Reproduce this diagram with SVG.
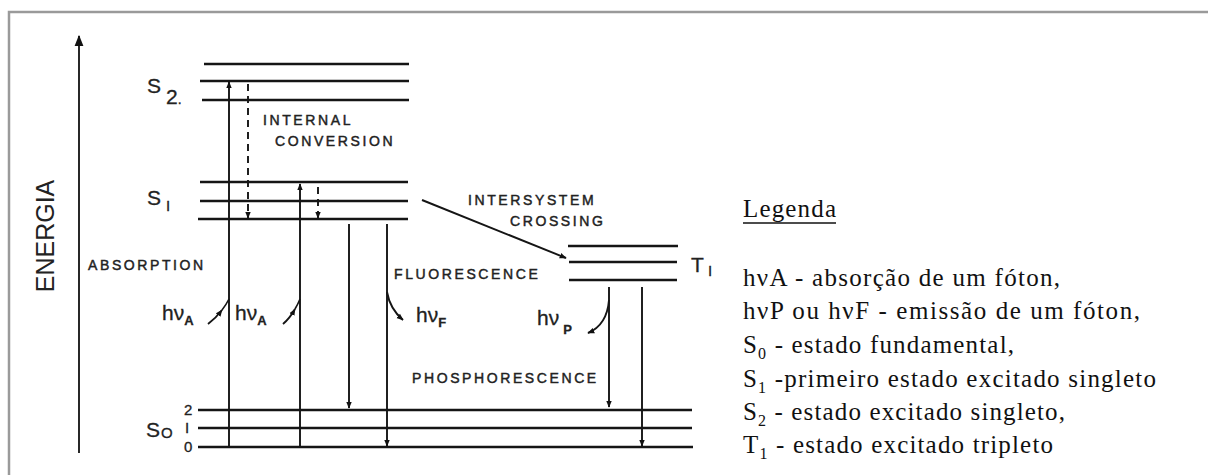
<svg xmlns="http://www.w3.org/2000/svg" width="1208" height="475" viewBox="0 0 1208 475">
<defs>
<marker id="ah" viewBox="0 0 10 10" refX="9" refY="5" markerWidth="7" markerHeight="7" markerUnits="userSpaceOnUse" orient="auto">
<path d="M0,1 L10,5 L0,9 Z" fill="#111"/>
</marker>
<marker id="ahBig" viewBox="0 0 10 10" refX="9" refY="5" markerWidth="11" markerHeight="11" markerUnits="userSpaceOnUse" orient="auto">
<path d="M0,1 L10,5 L0,9 Z" fill="#111"/>
</marker>
<style>
.lvl{stroke:#151515;stroke-width:2.5;fill:none}
.ar{stroke:#151515;stroke-width:1.9;fill:none;marker-end:url(#ah)}
.dash{stroke-dasharray:7 5}
.cap{font-family:"Liberation Sans",Arial,sans-serif;font-size:14px;letter-spacing:2.6px;fill:#222;stroke:#222;stroke-width:0.45}
.lab{font-family:"Liberation Sans",Arial,sans-serif;fill:#222}
.hv{font-family:"Liberation Sans",Arial,sans-serif;font-size:21px;fill:#222;stroke:#222;stroke-width:0.3}
.sub{font-size:13px;font-weight:bold}
.leg{font-family:"Liberation Serif","Times New Roman",serif;font-size:25px;fill:#111}
.ls{font-size:16px}
</style>
</defs>
<rect x="0" y="0" width="1208" height="475" fill="#fff"/>
<rect x="9" y="12" width="1210" height="480" fill="none" stroke="#9a9a9a" stroke-width="2.5"/>

<g id="axis">
<line x1="79" y1="453" x2="79" y2="36" stroke="#111" stroke-width="1.8" marker-end="url(#ahBig)"/>
<text class="lab" x="0" y="0" font-size="25" transform="translate(54,236) rotate(-90)" text-anchor="middle">ENERGIA</text>
</g>

<g id="S2">
<line class="lvl" x1="204" y1="64" x2="409" y2="64"/>
<line class="lvl" x1="200" y1="81" x2="409" y2="81"/>
<line class="lvl" x1="202" y1="100" x2="409" y2="100"/>
<text class="lab" x="147" y="93" font-size="21" stroke="#222" stroke-width="0.3">S</text>
<text class="lab" x="166" y="104" font-size="21" stroke="#222" stroke-width="0.3">2<tspan font-size="14">.</tspan></text>
</g>

<g id="S1">
<line class="lvl" x1="200" y1="182" x2="408" y2="182"/>
<line class="lvl" x1="200" y1="201" x2="408" y2="201"/>
<line class="lvl" x1="198" y1="219" x2="408" y2="219"/>
<text class="lab" x="147" y="205" font-size="21" stroke="#222" stroke-width="0.3">S</text>
<text class="lab" x="166" y="211" font-size="15" stroke="#222" stroke-width="0.3">I</text>
</g>

<g id="T1">
<line class="lvl" x1="568" y1="246" x2="678" y2="246"/>
<line class="lvl" x1="569" y1="262" x2="677" y2="262"/>
<line class="lvl" x1="569" y1="280" x2="677" y2="280"/>
<text class="lab" x="691" y="272" font-size="21" stroke="#222" stroke-width="0.3">T</text>
<text class="lab" x="708" y="276" font-size="15" stroke="#222" stroke-width="0.3">I</text>
</g>

<g id="S0">
<line class="lvl" x1="198" y1="410" x2="692" y2="410"/>
<line class="lvl" x1="198" y1="428" x2="692" y2="428"/>
<line class="lvl" x1="198" y1="447" x2="693" y2="447"/>
<text class="lab" x="146" y="437" font-size="21" stroke="#222" stroke-width="0.3">S</text>
<text class="lab" x="161" y="438" font-size="15" stroke="#222" stroke-width="0.3">O</text>
<text class="lab" x="184" y="415" font-size="15" stroke="#222" stroke-width="0.3">2</text>
<text class="lab" x="185" y="433" font-size="15" stroke="#222" stroke-width="0.3">I</text>
<text class="lab" x="184" y="452" font-size="15" stroke="#222" stroke-width="0.3">0</text>
</g>

<g id="labels">
<text class="cap" x="263" y="125">INTERNAL</text>
<text class="cap" x="275" y="146">CONVERSION</text>
<text class="cap" x="468" y="205">INTERSYSTEM</text>
<text class="cap" x="510" y="226">CROSSING</text>
<text class="cap" x="88" y="270">ABSORPTION</text>
<text class="cap" x="394" y="279">FLUORESCENCE</text>
<text class="cap" x="412" y="383">PHOSPHORESCENCE</text>
<text class="hv" x="162" y="320">hν<tspan class="sub" dy="5">A</tspan></text>
<text class="hv" x="235" y="320">hν<tspan class="sub" dy="5">A</tspan></text>
<text class="hv" x="416" y="322">hν<tspan class="sub" dy="5">F</tspan></text>
<text class="hv" x="537" y="325">hν<tspan class="sub" dx="4" dy="9">P</tspan></text>
</g>

<g id="connectors">
<line class="ar" x1="229" y1="447" x2="229" y2="82"/>
<line class="ar" x1="300" y1="447" x2="300" y2="184"/>
<line class="ar dash" x1="248" y1="84" x2="248" y2="218"/>
<line class="ar dash" x1="318" y1="187" x2="318" y2="218"/>
<line class="ar" x1="349" y1="224" x2="349" y2="408"/>
<line class="ar" x1="387" y1="224" x2="387" y2="446"/>
<line class="ar" x1="609" y1="287" x2="609" y2="407"/>
<line class="ar" x1="642" y1="287" x2="642" y2="446"/>
<line class="ar" x1="422" y1="200" x2="566" y2="258"/>
<path class="ar" d="M208,324 Q216,318 222,310"/>
<path d="M222,310 Q226,305 229,299" stroke="#151515" stroke-width="1.6" fill="none"/>
<path class="ar" d="M283,324 Q290,318 295,309"/>
<path d="M295,309 Q298,304 300,299" stroke="#151515" stroke-width="1.6" fill="none"/>
<path class="ar" d="M387,292 Q390,309 403,320"/>
<path class="ar" d="M609,300 Q607,325 588,333"/>
</g>

<g id="legend" class="leg">
<text x="743" y="217" textLength="93" lengthAdjust="spacing">Legenda</text>
<line x1="743" y1="223" x2="836" y2="223" stroke="#111" stroke-width="1.5"/>
<text x="743" y="286" textLength="317" lengthAdjust="spacing">hνA - absorção de um fóton,</text>
<text x="743" y="319" textLength="397" lengthAdjust="spacing">hνP ou hνF -  emissão de um fóton,</text>
<text x="743" y="353" textLength="271" lengthAdjust="spacing">S<tspan class="ls" dy="6">0</tspan><tspan dy="-6"> - estado fundamental,</tspan></text>
<text x="743" y="387" textLength="413" lengthAdjust="spacing">S<tspan class="ls" dy="6">1</tspan><tspan dy="-6"> -primeiro estado excitado singleto</tspan></text>
<text x="743" y="420" textLength="322" lengthAdjust="spacing">S<tspan class="ls" dy="6">2</tspan><tspan dy="-6"> - estado excitado singleto,</tspan></text>
<text x="743" y="453" textLength="310" lengthAdjust="spacing">T<tspan class="ls" dy="6">1</tspan><tspan dy="-6"> - estado excitado tripleto</tspan></text>
</g>
</svg>
